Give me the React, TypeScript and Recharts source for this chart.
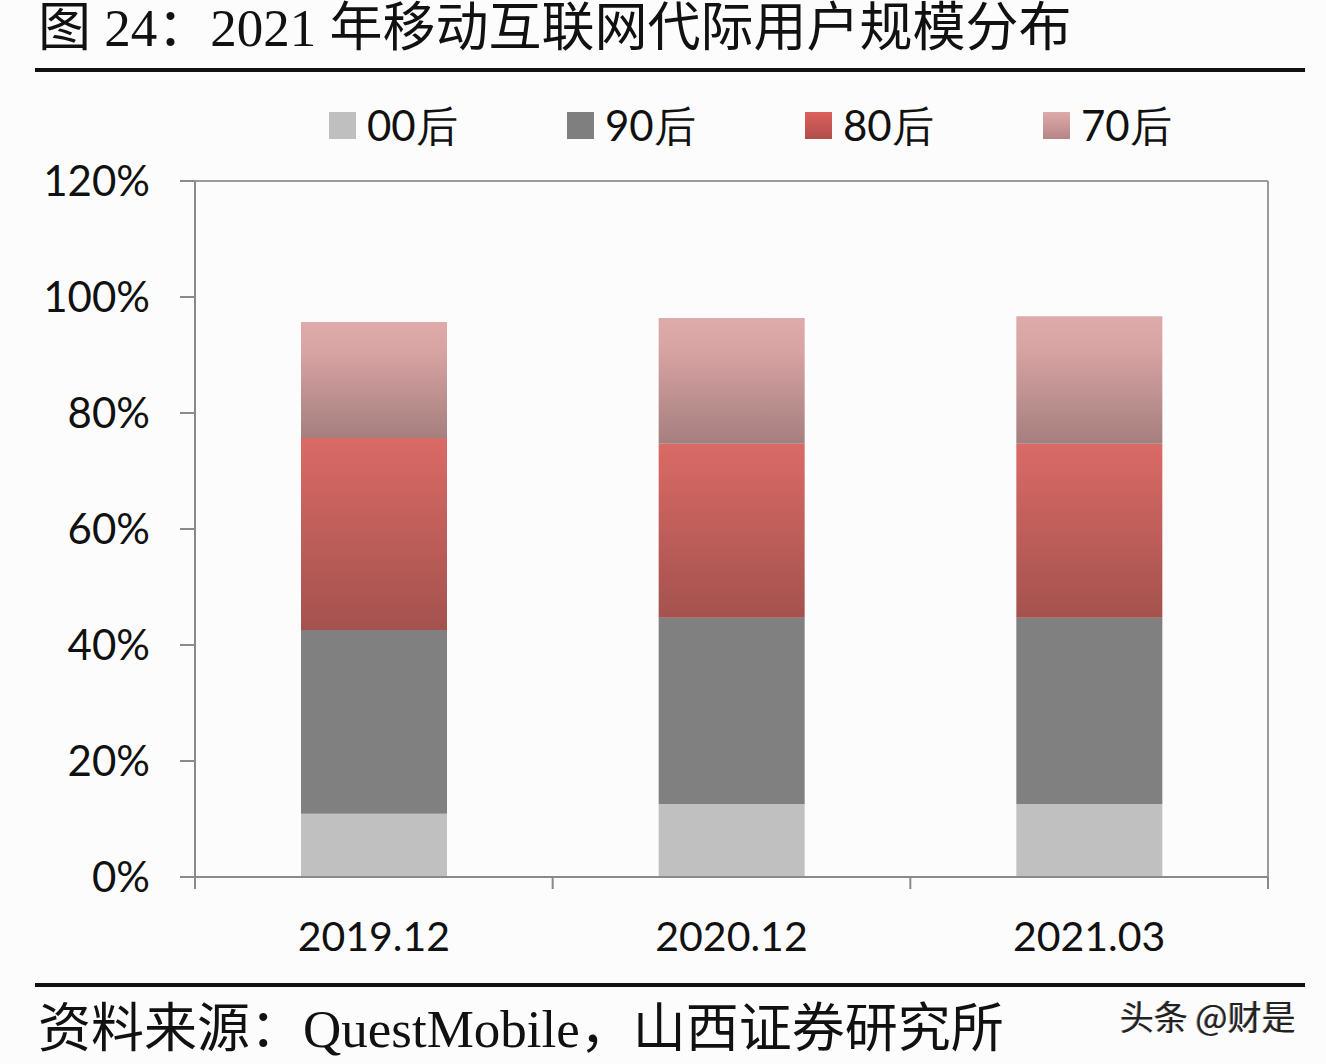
import React from 'react';
import { BarChart, Bar, XAxis, YAxis, ReferenceLine } from 'recharts';

// Reporting periods (x categories)
const periods = ['2019.12', '2020.12', '2021.03'];

// Share of mobile internet users by generation, in percent
const gen00 = [10.9, 12.6, 12.6];
const gen90 = [31.7, 32.1, 32.1];
const gen80 = [33.1, 30.0, 30.0];
const gen70 = [20.0, 21.7, 22.0];

const yTicks = [0, 20, 40, 60, 80, 100, 120];

const seriesNames = ['00后', '90后', '80后', '70后'];

const data = periods.map((p, i) => ({
  period: p,
  g00: gen00[i],
  g90: gen90[i],
  g80: gen80[i],
  g70: gen70[i],
}));

const AXIS = '#8a8a8a';
const LABEL_FONT = "Lato, 'Open Sans', 'Noto Sans', sans-serif";
const SERIF_CJK = "'Liberation Serif', 'Noto Sans CJK SC', serif";

const swatchBg = [
  '#bfbfbf',
  '#7f7f7f',
  'linear-gradient(#dc605d, #b04e4b)',
  'linear-gradient(#dfaaaa, #b58686)',
];

const LegendRow = () => (
  <div style={{ position: 'absolute', top: 100, left: 329, display: 'flex' }}>
    {seriesNames.map((name, i) => (
      <div key={name} style={{ width: 238, display: 'flex', alignItems: 'center' }}>
        <div style={{ width: 27, height: 27, background: swatchBg[i], marginRight: 11 }} />
        <span style={{ fontFamily: LABEL_FONT, fontSize: 42, color: '#111', lineHeight: '50px' }}>{name}</span>
      </div>
    ))}
  </div>
);

// Category label at the band centre, tick marks at the band edges
const XTick = (props: any) => {
  const { x, y, payload, index, width, visibleTicksCount } = props;
  const band = width / visibleTicksCount;
  const left = x - band / 2;
  const right = x + band / 2;
  return (
    <g>
      <line x1={left} y1={y} x2={left} y2={y + 12} stroke={AXIS} strokeWidth={2} />
      {index === visibleTicksCount - 1 && (
        <line x1={right} y1={y} x2={right} y2={y + 12} stroke={AXIS} strokeWidth={2} />
      )}
      <text x={x} y={y + 74} textAnchor="middle" fontFamily={LABEL_FONT} fontSize={41} fill="#111">
        {payload.value}
      </text>
    </g>
  );
};

export default function App() {
  return (
    <div
      style={{
        position: 'absolute',
        left: 0,
        top: 0,
        width: 1326,
        height: 1064,
        background: '#fcfcfd',
        overflow: 'hidden',
      }}
    >
      <div
        style={{
          position: 'absolute',
          left: 38,
          top: 1,
          fontFamily: SERIF_CJK,
          fontSize: 53,
          lineHeight: '54px',
          color: '#111',
          whiteSpace: 'nowrap',
        }}
      >
        图 24：2021 年移动互联网代际用户规模分布
      </div>
      <div style={{ position: 'absolute', left: 35, top: 68, width: 1270, height: 4, background: '#111' }} />

      <LegendRow />

      <div style={{ position: 'absolute', left: 0, top: 0 }}>
        <BarChart
          width={1326}
          height={1064}
          data={data}
          margin={{ top: 181, left: 135, right: 57, bottom: 186 }}
          barSize={146}
        >
          <defs>
            <linearGradient id="grad80" x1="0" y1="0" x2="0" y2="1">
              <stop offset="0%" stopColor="#da6a66" />
              <stop offset="100%" stopColor="#a4524e" />
            </linearGradient>
            <linearGradient id="grad70" x1="0" y1="0" x2="0" y2="1">
              <stop offset="0%" stopColor="#dfaaaa" />
              <stop offset="25%" stopColor="#d8a3a3" />
              <stop offset="100%" stopColor="#a57f7e" />
            </linearGradient>
          </defs>
          <XAxis
            dataKey="period"
            tickLine={false}
            tickSize={0}
            tickMargin={0}
            axisLine={{ stroke: AXIS, strokeWidth: 2 }}
            tick={<XTick />}
            interval={0}
            height={1}
          />
          <YAxis
            domain={[0, 120]}
            ticks={yTicks}
            tickFormatter={(v: number) => `${v}%`}
            width={60}
            tickSize={15}
            tickMargin={30}
            axisLine={{ stroke: AXIS, strokeWidth: 2 }}
            tickLine={{ stroke: AXIS, strokeWidth: 2 }}
            tick={{ fontFamily: LABEL_FONT, fontSize: 42, fill: '#111' }}
            allowDataOverflow
          />
          <YAxis
            yAxisId="frame"
            orientation="right"
            domain={[0, 120]}
            width={1}
            tick={false}
            tickLine={false}
            axisLine={{ stroke: '#9a9a9a', strokeWidth: 2 }}
          />
          <ReferenceLine y={120} stroke="#9a9a9a" strokeWidth={2} ifOverflow="extendDomain" />
          <Bar dataKey="g00" name={seriesNames[0]} stackId="a" fill="#c0c0c0" isAnimationActive={false} />
          <Bar dataKey="g90" name={seriesNames[1]} stackId="a" fill="#808080" isAnimationActive={false} />
          <Bar dataKey="g80" name={seriesNames[2]} stackId="a" fill="url(#grad80)" isAnimationActive={false} />
          <Bar dataKey="g70" name={seriesNames[3]} stackId="a" fill="url(#grad70)" isAnimationActive={false} />
        </BarChart>
      </div>

      <div style={{ position: 'absolute', left: 35, top: 983, width: 1270, height: 4, background: '#111' }} />
      <div
        style={{
          position: 'absolute',
          left: 38,
          top: 1002,
          fontFamily: SERIF_CJK,
          fontSize: 53,
          lineHeight: '54px',
          color: '#111',
          whiteSpace: 'nowrap',
        }}
      >
        资料来源：QuestMobile，山西证券研究所
      </div>
      <div
        style={{
          position: 'absolute',
          left: 1120,
          top: 994,
          fontFamily: "'Noto Sans CJK SC', sans-serif",
          fontSize: 34,
          lineHeight: '44px',
          color: '#222',
          textShadow: '1px 1px 0 #fff, -1px 0 0 #999',
          whiteSpace: 'nowrap',
        }}
      >
        头条 @财是
      </div>
    </div>
  );
}
